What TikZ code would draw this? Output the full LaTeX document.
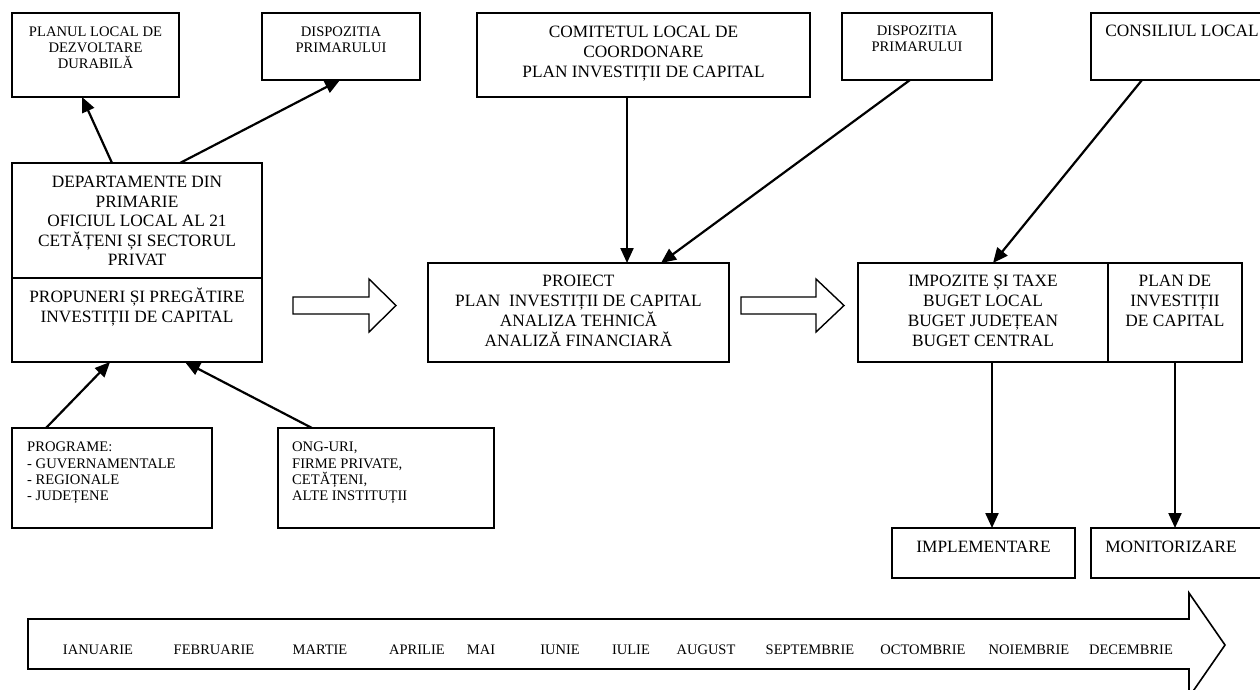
\documentclass[tikz,border=0pt]{standalone}
\usepackage{fontspec}
\setmainfont{Liberation Serif}
\usetikzlibrary{arrows.meta}
\tikzset{
  box/.style={draw, line width=1.8pt, inner sep=0pt, outer sep=0pt},
  big/.style={font=\fontsize{17.3}{20}\selectfont, align=center, anchor=base, inner sep=0pt},
  small/.style={font=\fontsize{14.6}{16}\selectfont, align=center, anchor=base, inner sep=0pt},
  listtext/.style={font=\fontsize{14.6}{16.2}\selectfont, align=left, anchor=base west, inner sep=0pt},
  month/.style={font=\fontsize{14.5}{16}\selectfont, anchor=base, inner sep=0pt},
  arr/.style={line width=2.2pt, -{Triangle[length=15pt,width=13pt]}},
  hollow/.style={draw, line width=1.4pt, fill=white, line join=miter}
}
\begin{document}
\begin{tikzpicture}[x=1pt, y=-1pt]
\useasboundingbox (0,0) rectangle (1260,689);
\clip (0,0) rectangle (1260,689);
\fill[white] (0,0) rectangle (1260,689);

% boxes
\node[box, minimum width=167pt, minimum height=84pt] (b1) at (95.5,55) {};
\node[box, minimum width=158pt, minimum height=67pt] (b2) at (341,46.5) {};
\node[box, minimum width=333pt, minimum height=84pt] (b3) at (643.5,55) {};
\node[box, minimum width=150pt, minimum height=67pt] (b4) at (917,46.5) {};
\node[box, minimum width=175pt, minimum height=67pt] (b5) at (1178.5,46.5) {};
\node[box, minimum width=250pt, minimum height=199pt] (main) at (137,262.5) {};
\node[box, minimum width=200pt, minimum height=100pt] (prog) at (112,478) {};
\node[box, minimum width=216pt, minimum height=100pt] (ong) at (386,478) {};
\node[box, minimum width=301pt, minimum height=99pt] (proiect) at (578.5,312.5) {};
\node[box, minimum width=384pt, minimum height=99pt] (right) at (1050,312.5) {};
\node[box, minimum width=183pt, minimum height=50pt] (impl) at (983.5,553) {};
\node[box, minimum width=175pt, minimum height=50pt] (mon) at (1178.5,553) {};

% dividers
\draw[line width=1.8pt] ([yshift=-115pt]main.north west) -- ([yshift=-115pt]main.north east);
\draw[line width=1.8pt] ([xshift=250pt]right.north west) -- ([xshift=250pt]right.south west);

% texts (anchored at the baseline of the last line)
\node[small] (t1) at (95.5,68.8) {PLANUL LOCAL DE\\DEZVOLTARE\\DURABILĂ};
\node[small] (t2) at (341,52.8) {DISPOZITIA\\PRIMARULUI};
\node[big] (t3) at (643.5,77.7) {COMITETUL LOCAL DE\\COORDONARE\\PLAN INVESTIȚII DE CAPITAL};
\node[small] (t4) at (917,51.8) {DISPOZITIA\\PRIMARULUI};
\node[big] (t5) at (1182,36.7) {CONSILIUL LOCAL};
\node[big, font=\fontsize{17.3}{19.5}\selectfont] (t6) at (137,265.7) {DEPARTAMENTE DIN\\PRIMARIE\\OFICIUL LOCAL AL 21\\CETĂȚENI ȘI SECTORUL\\PRIVAT};
\node[big] (t7) at (137,322.7) {PROPUNERI ȘI PREGĂTIRE\\INVESTIȚII DE CAPITAL};
\node[big] (t8) at (578.5,346.7) {PROIECT\\PLAN~ INVESTIȚII DE CAPITAL\\ANALIZA TEHNICĂ\\ANALIZĂ FINANCIARĂ};
\node[big] (t9) at (983,346.7) {IMPOZITE ȘI TAXE\\BUGET LOCAL\\BUGET JUDEȚEAN\\BUGET CENTRAL};
\node[big] (t10) at (1175,326.7) {PLAN DE\\INVESTIȚII\\DE CAPITAL};
\node[big] (t11) at (983.5,552.7) {IMPLEMENTARE};
\node[big] (t12) at (1171,552.7) {MONITORIZARE};
\node[listtext] (t13) at (27,500.4) {PROGRAME:\\- GUVERNAMENTALE\\- REGIONALE\\- JUDEȚENE};
\node[listtext] (t14) at (292,500.4) {ONG-URI,\\FIRME PRIVATE,\\CETĂȚENI,\\ALTE INSTITUȚII};

% connectors
\draw[arr] ([xshift=100pt]main.north west) -- ([xshift=70pt]b1.south west);
\draw[arr] ([xshift=168pt]main.north west) -- ([xshift=78pt]b2.south west);
\draw[arr] ([xshift=34pt]prog.north west) -- ([xshift=98pt]main.south west);
\draw[arr] ([xshift=34pt]ong.north west) -- ([xshift=173pt]main.south west);
\draw[arr] ([xshift=150pt]b3.south west) -- ([xshift=199pt]proiect.north west);
\draw[arr] ([xshift=68pt]b4.south west) -- ([xshift=233pt]proiect.north west);
\draw[arr] ([xshift=51pt]b5.south west) -- ([xshift=135pt]right.north west);
\draw[arr] ([xshift=134pt]right.south west) -- ([xshift=100pt]impl.north west);
\draw[arr] ([xshift=317pt]right.south west) -- ([xshift=84pt]mon.north west);

% hollow arrows
\draw[hollow] (293,297) -- (369,297) -- (369,279) -- (396,305.5) -- (369,332) -- (369,314) -- (293,314) -- cycle;
\draw[hollow] (741,297) -- (816,297) -- (816,279) -- (844,305.5) -- (816,332) -- (816,314) -- (741,314) -- cycle;

% timeline
\draw[line width=1.6pt, line join=miter] (28,619) -- (1189,619) -- (1189,593) -- (1225,645) -- (1189,697) -- (1189,669) -- (28,669) -- cycle;
\node[month] (m1) at (98,654) {IANUARIE};
\node[month] (m2) at (214,654) {FEBRUARIE};
\node[month] (m3) at (320,654) {MARTIE};
\node[month] (m4) at (417,654) {APRILIE};
\node[month] (m5) at (481,654) {MAI};
\node[month] (m6) at (560,654) {IUNIE};
\node[month] (m7) at (631,654) {IULIE};
\node[month] (m8) at (706,654) {AUGUST};
\node[month] (m9) at (810,654) {SEPTEMBRIE};
\node[month] (m10) at (923,654) {OCTOMBRIE};
\node[month] (m11) at (1029,654) {NOIEMBRIE};
\node[month] (m12) at (1131,654) {DECEMBRIE};
\end{tikzpicture}
\end{document}
